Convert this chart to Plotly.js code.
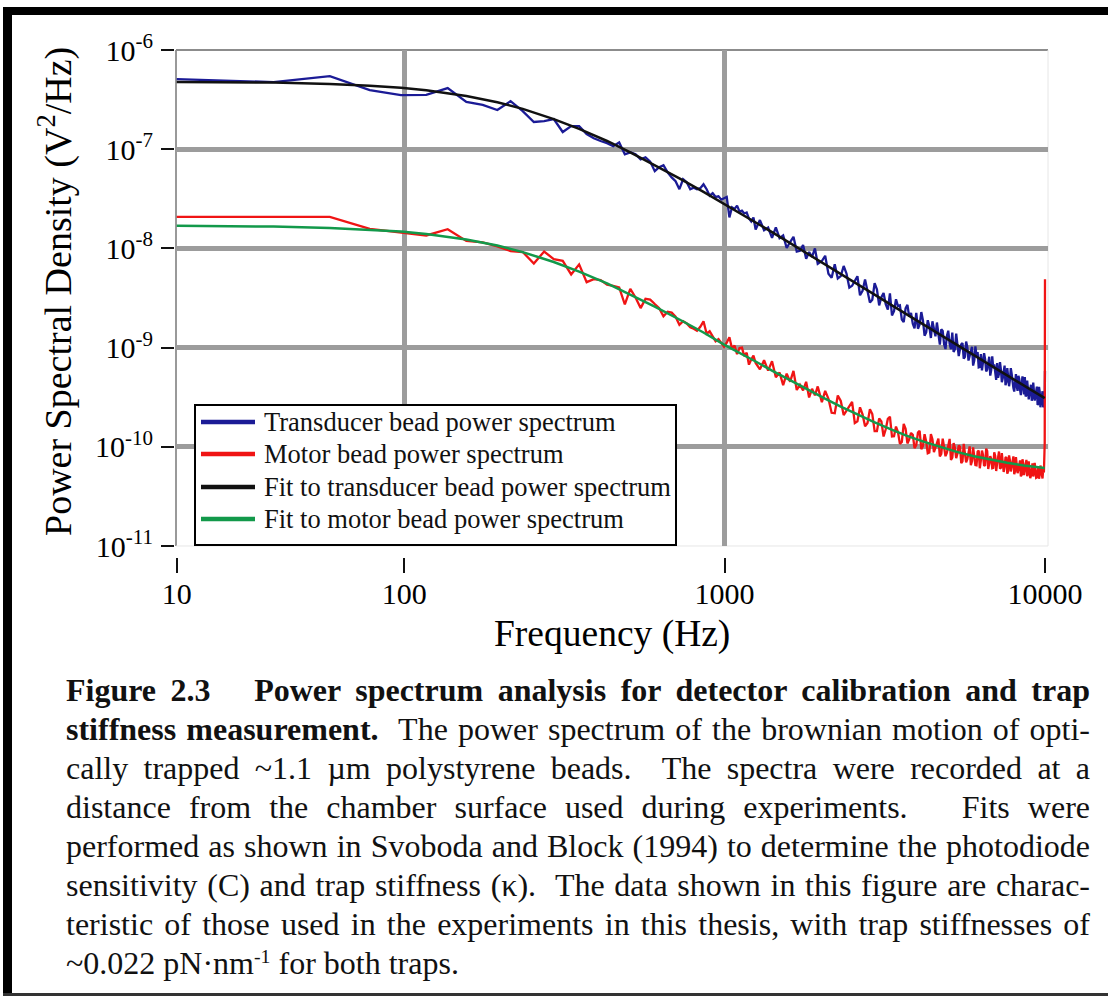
<!DOCTYPE html>
<html>
<head>
<meta charset="utf-8">
<script src="https://cdn.plot.ly/plotly-3.0.1.min.js"></script>
<style>
html,body{margin:0;padding:0;background:#fff;}
#wrap{position:relative;width:1108px;height:996px;overflow:hidden;background:#fff;}
#chart{position:absolute;left:0;top:0;width:1108px;height:996px;}
.frame{position:absolute;background:#000;}
#caption{position:absolute;left:66px;top:671px;width:1024px;font-family:"Liberation Serif","Times New Roman",serif;font-size:32px;line-height:39px;color:#111;}
#caption .ln{text-align:justify;text-align-last:justify;}
#caption .last{text-align:left;text-align-last:left;}
#caption sup{font-size:0.62em;line-height:0;vertical-align:0.55em;}
</style>
</head>
<body>
<div id="wrap">
  <div id="chart"></div>
  <div class="frame" style="left:3px;top:7px;width:1105px;height:8px;"></div>
  <div class="frame" style="left:3px;top:7px;width:9px;height:988px;"></div>
  <div class="frame" style="left:3px;top:993px;width:1105px;height:3px;background:#333;"></div>
  <div id="caption">
    <div class="ln"><b>Figure 2.3&nbsp;&nbsp; Power spectrum analysis for detector calibration and trap</b></div>
    <div class="ln"><b>stiffness measurement.</b>&nbsp; The power spectrum of the brownian motion of opti-</div>
    <div class="ln">cally trapped ~1.1 µm polystyrene beads.&nbsp; The spectra were recorded at a</div>
    <div class="ln">distance from the chamber surface used during experiments.&nbsp;&nbsp; Fits were</div>
    <div class="ln">performed as shown in Svoboda and Block (1994) to determine the photodiode</div>
    <div class="ln">sensitivity (C) and trap stiffness (κ).&nbsp; The data shown in this figure are charac-</div>
    <div class="ln">teristic of those used in the experiments in this thesis, with trap stiffnesses of</div>
    <div class="ln last">~0.022 pN·nm<sup>-1</sup> for both traps.</div>
  </div>
</div>
<script>
// ---------------- data ----------------
const seriesNames = [
  'Transducer bead power spectrum',
  'Motor bead power spectrum',
  'Fit to transducer bead power spectrum',
  'Fit to motor bead power spectrum'
];

const freqData = [
  19.5, 39.1, 58.6, 78.1, 97.7, 117.2, 136.7, 156.3, 175.8, 195.3,
  214.8, 234.4, 253.9, 273.4, 293.0, 312.5, 332.0, 351.6, 371.1, 390.6,
  410.2, 429.7, 449.2, 468.8, 488.3, 507.8, 527.3, 546.9, 566.4, 585.9,
  605.5, 625.0, 644.5, 664.1, 683.6, 703.1, 722.7, 742.2, 761.7, 781.3,
  800.8, 820.3, 839.8, 859.4, 878.9, 898.4, 918.0, 937.5, 957.0, 976.6,
  996.1, 1015.6, 1035.2, 1054.7, 1074.2, 1093.8, 1113.3, 1132.8, 1152.3, 1171.9,
  1191.4, 1210.9, 1230.5, 1250.0,
  1289.1, 1328.1, 1367.2, 1406.3, 1445.3, 1484.4, 1523.4, 1562.5, 1601.6, 1640.6,
  1679.7, 1718.8, 1757.8, 1796.9, 1835.9, 1875.0, 1914.1, 1953.1,
  2011.7, 2109.4, 2207.0, 2304.7, 2402.3, 2500.0, 2597.7, 2695.3, 2793.0, 2890.6,
  2988.3, 3085.9, 3183.6, 3281.3, 3378.9, 3476.6, 3574.2, 3671.9, 3769.5, 3867.2,
  3964.8, 4062.5, 4160.2, 4257.8, 4355.5, 4453.1, 4550.8, 4648.4, 4746.1, 4843.8,
  4941.4, 5039.1, 5136.7, 5234.4, 5332.0, 5429.7, 5527.3, 5625.0, 5722.7, 5820.3,
  5918.0, 6015.6, 6113.3, 6210.9, 6308.6, 6406.3, 6503.9, 6601.6, 6699.2, 6796.9,
  6894.5, 6992.2, 7089.8, 7187.5, 7285.2, 7382.8, 7480.5, 7578.1, 7675.8, 7773.4,
  7871.1, 7968.8, 8066.4, 8164.1, 8261.7, 8359.4, 8457.0, 8554.7, 8652.3, 8750.0,
  8847.7, 8945.3, 9043.0, 9140.6, 9238.3, 9335.9, 9433.6, 9531.3, 9628.9, 9726.6,
  9824.2, 9921.9, 9980.5, 10000.0
];

const transducerPSD = [
  5.09e-7, 4.75e-7, 5.46e-7, 3.94e-7, 3.51e-7, 3.53e-7, 4.13e-7, 3.00e-7, 2.80e-7, 2.48e-7,
  3.05e-7, 2.42e-7, 1.88e-7, 1.92e-7, 2.01e-7, 1.49e-7, 1.71e-7, 1.71e-7, 1.42e-7, 1.29e-7,
  1.21e-7, 1.15e-7, 1.07e-7, 1.17e-7, 8.9e-8, 9.3e-8, 8.9e-8, 7.9e-8, 8.3e-8, 7.5e-8,
  6.0e-8, 6.6e-8, 6.9e-8, 5.85e-8, 5.2e-8, 4.75e-8, 3.95e-8, 4.98e-8, 4.65e-8, 3.95e-8,
  4.1e-8, 3.95e-8, 4.05e-8, 4.43e-8, 3.95e-8, 3.4e-8, 3.6e-8, 3.3e-8, 3.35e-8, 3.1e-8,
  3.2e-8, 3.3e-8, 2.05e-8, 2.6e-8, 2.5e-8, 2.7e-8, 2.35e-8, 2.4e-8, 2.25e-8, 2.3e-8,
  2.0e-8, 1.87e-8, 2.05e-8, 1.55e-8,
  1.93e-8, 1.52e-8, 1.62e-8, 1.28e-8, 1.63e-8, 1.27e-8, 1.35e-8, 1.01e-8, 1.16e-8, 1.31e-8,
  9.29e-9, 9.47e-9, 1.08e-8, 7.87e-9, 9.19e-9, 8.23e-9, 9.98e-9, 6.98e-9,
  7.46e-9, 5.54e-9, 6.94e-9, 5.26e-9, 5.56e-9, 4.20e-9, 5.24e-9, 3.74e-9, 3.82e-9, 3.04e-9,
  3.87e-9, 3.23e-9, 2.74e-9, 3.52e-9, 2.33e-9, 2.62e-9, 1.92e-9, 2.48e-9, 2.04e-9, 1.74e-9,
  2.24e-9, 1.71e-9, 1.88e-9, 1.42e-9, 1.64e-9, 1.84e-9, 1.30e-9, 1.33e-9, 1.53e-9, 1.08e-9,
  1.31e-9, 1.09e-9, 1.42e-9, 9.65e-10, 1.06e-9, 9.67e-10, 1.11e-9, 8.08e-10, 1.01e-9, 8.24e-10,
  1.02e-9, 7.39e-10, 8.27e-10, 6.31e-10, 8.58e-10, 7.02e-10, 7.65e-10, 6.00e-10, 8.08e-10, 5.98e-10,
  6.25e-10, 5.17e-10, 6.97e-10, 5.46e-10, 5.99e-10, 4.91e-10, 6.58e-10, 4.51e-10, 5.20e-10, 4.72e-10,
  5.42e-10, 3.93e-10, 5.03e-10, 4.10e-10, 5.19e-10, 3.78e-10, 4.37e-10, 3.94e-10, 5.04e-10, 3.34e-10,
  3.84e-10, 3.46e-10, 4.22e-10, 3.13e-10, 3.76e-10, 3.24e-10, 4.04e-10, 2.71e-10, 3.60e-10, 2.86e-10,
  3.63e-10, 2.63e-10, 3.17e-10, 5.8e-10
];

const motorPSD = [
  2.08e-8, 2.08e-8, 2.08e-8, 1.57e-8, 1.44e-8, 1.35e-8, 1.56e-8, 1.19e-8, 1.15e-8, 1.05e-8,
  9.4e-9, 9.2e-9, 7.05e-9, 9.3e-9, 7.8e-9, 7.5e-9, 5.46e-9, 6.9e-9, 4.57e-9, 4.9e-9,
  4.8e-9, 4.3e-9, 4.2e-9, 4.05e-9, 2.72e-9, 3.9e-9, 3.2e-9, 2.5e-9, 3.1e-9, 3.05e-9,
  2.75e-9, 2.5e-9, 2.07e-9, 2.3e-9, 2.25e-9, 2.05e-9, 1.7e-9, 1.85e-9, 1.75e-9, 1.6e-9,
  1.55e-9, 1.48e-9, 1.62e-9, 1.84e-9, 1.38e-9, 1.46e-9, 1.3e-9, 1.16e-9, 1.22e-9, 1.1e-9,
  1.02e-9, 1.12e-9, 1.27e-9, 9.8e-10, 1.05e-9, 8.6e-10, 9.9e-10, 1.0e-9, 8.2e-10, 8.9e-10,
  6.73e-10, 7.6e-10, 8.3e-10, 7.0e-10,
  6.03e-10, 7.48e-10, 5.86e-10, 7.28e-10, 5.03e-10, 5.61e-10, 4.18e-10, 5.47e-10, 4.53e-10, 5.82e-10,
  3.74e-10, 4.21e-10, 3.70e-10, 4.52e-10, 3.14e-10, 3.84e-10, 3.30e-10, 4.06e-10,
  2.82e-10, 3.05e-10, 2.18e-10, 2.90e-10, 2.33e-10, 2.84e-10, 1.81e-10, 2.12e-10, 1.74e-10, 2.14e-10,
  1.44e-10, 1.80e-10, 1.50e-10, 2.01e-10, 1.28e-10, 1.41e-10, 1.12e-10, 1.52e-10, 1.19e-10, 1.32e-10,
  1.04e-10, 1.45e-10, 1.02e-10, 1.13e-10, 8.75e-11, 1.19e-10, 9.89e-11, 1.21e-10, 8.47e-11, 1.01e-10,
  8.72e-11, 1.20e-10, 7.78e-11, 9.81e-11, 8.58e-11, 1.00e-10, 7.12e-11, 8.80e-11, 7.51e-11, 1.01e-10,
  7.15e-11, 8.02e-11, 6.50e-11, 9.17e-11, 7.29e-11, 8.28e-11, 6.53e-11, 9.09e-11, 6.77e-11, 7.52e-11,
  6.13e-11, 8.11e-11, 6.82e-11, 8.97e-11, 6.14e-11, 7.36e-11, 6.26e-11, 7.88e-11, 5.69e-11, 7.29e-11,
  6.30e-11, 8.01e-11, 5.68e-11, 6.71e-11, 5.88e-11, 7.29e-11, 5.22e-11, 6.76e-11, 5.94e-11, 7.39e-11,
  5.38e-11, 6.24e-11, 5.14e-11, 6.81e-11, 5.46e-11, 5.95e-11, 4.92e-11, 6.33e-11, 5.25e-11, 5.73e-11,
  4.79e-11, 5.50e-11, 1.1e-10, 4.9e-9
];

// additional high-frequency samples lying between the ones above
const freqDataExtra = [
  2060.5, 2158.2, 2255.9, 2353.5, 2451.2, 2548.8, 2646.5, 2744.1, 2841.8, 2939.5,
  3037.1, 3134.8, 3232.4, 3330.1, 3427.7, 3525.4, 3623.0, 3720.7, 3818.4, 3916.0,
  4013.7, 4111.3, 4209.0, 4306.6, 4404.3, 4502.0, 4599.6, 4697.3, 4794.9, 4892.6,
  4990.2, 5087.9, 5185.5, 5283.2, 5380.9, 5478.5, 5576.2, 5673.8, 5771.5, 5869.1,
  5966.8, 6064.5, 6162.1, 6259.8, 6357.4, 6455.1, 6552.7, 6650.4, 6748.0, 6845.7,
  6943.4, 7041.0, 7138.7, 7236.3, 7334.0, 7431.6, 7529.3, 7627.0, 7724.6, 7822.3,
  7919.9, 8017.6, 8115.2, 8212.9, 8310.5, 8408.2, 8505.9, 8603.5, 8701.2, 8798.8,
  8896.5, 8994.1, 9091.8, 9189.5, 9287.1, 9384.8, 9482.4, 9580.1, 9677.7, 9775.4,
  9873.0
];
const transducerPSDExtra = [
  8.43e-9, 5.05e-9, 4.97e-9, 6.65e-9, 4.02e-9, 4.63e-9, 3.37e-9, 4.86e-9, 2.85e-9, 4.45e-9,
  2.66e-9, 3.55e-9, 2.41e-9, 2.11e-9, 3.07e-9, 2.67e-9, 1.81e-9, 2.70e-9, 2.23e-9, 1.56e-9,
  1.55e-9, 2.28e-9, 1.32e-9, 1.89e-9, 1.25e-9, 1.56e-9, 1.79e-9, 1.07e-9, 1.47e-9, 9.67e-10,
  1.48e-9, 9.63e-10, 9.05e-10, 1.38e-9, 8.20e-10, 1.08e-9, 7.74e-10, 1.15e-9, 7.40e-10, 9.65e-10,
  6.59e-10, 1.03e-9, 8.99e-10, 6.37e-10, 5.88e-10, 8.77e-10, 5.74e-10, 7.12e-10, 5.22e-10, 8.18e-10,
  6.78e-10, 4.73e-10, 4.96e-10, 7.14e-10, 4.47e-10, 5.49e-10, 4.19e-10, 6.23e-10, 4.08e-10, 6.22e-10,
  4.36e-10, 3.60e-10, 5.41e-10, 3.66e-10, 4.86e-10, 3.32e-10, 5.14e-10, 3.37e-10, 3.21e-10, 4.65e-10,
  3.01e-10, 4.20e-10, 2.92e-10, 4.44e-10, 2.92e-10, 3.64e-10, 2.64e-10, 4.02e-10, 2.50e-10, 3.58e-10,
  2.50e-10
];
const motorPSDExtra = [
  3.66e-10, 2.20e-10, 3.29e-10, 2.09e-10, 2.54e-10, 1.74e-10, 2.50e-10, 1.61e-10, 2.39e-10, 1.44e-10,
  1.93e-10, 1.27e-10, 1.91e-10, 1.27e-10, 1.60e-10, 1.07e-10, 1.70e-10, 1.08e-10, 1.38e-10, 9.68e-11,
  1.39e-10, 9.46e-11, 1.34e-10, 8.61e-11, 1.34e-10, 8.84e-11, 1.10e-10, 7.98e-11, 1.21e-10, 8.04e-11,
  1.07e-10, 7.38e-11, 1.09e-10, 7.67e-11, 1.03e-10, 6.83e-11, 1.07e-10, 6.97e-11, 9.11e-11, 6.54e-11,
  9.85e-11, 6.54e-11, 8.90e-11, 6.08e-11, 9.17e-11, 6.41e-11, 9.59e-11, 5.98e-11, 8.07e-11, 6.08e-11,
  8.80e-11, 5.70e-11, 8.29e-11, 6.03e-11, 8.65e-11, 5.58e-11, 7.76e-11, 5.37e-11, 8.20e-11, 5.64e-11,
  7.43e-11, 5.29e-11, 7.86e-11, 5.43e-11, 7.05e-11, 5.04e-11, 7.49e-11, 5.18e-11, 6.70e-11, 5.06e-11,
  7.15e-11, 4.83e-11, 6.64e-11, 5.03e-11, 6.90e-11, 4.87e-11, 6.22e-11, 4.77e-11, 6.48e-11, 4.86e-11,
  6.00e-11
];

const freqFit = [
  19.5, 39.1, 58.6, 78.1, 97.7, 117.2, 156.3, 195.3, 234.4, 293.0,
  351.6, 429.7, 507.8, 605.5, 722.7, 859.4, 996.1, 1113.3, 1250.0, 1406.3,
  1601.6, 1816.4, 2050.8, 2304.7, 2597.7, 2929.7, 3320.3, 3710.9, 4199.2, 4687.5,
  5273.4, 5957.0, 6738.3, 7617.2, 8593.8, 9375.0, 9980.5
];
const transducerFit = [
  4.77e-7, 4.69e-7, 4.55e-7, 4.37e-7, 4.16e-7, 3.93e-7, 3.44e-7, 2.97e-7, 2.55e-7, 2.01e-7,
  1.60e-7, 1.21e-7, 9.30e-8, 6.94e-8, 5.09e-8, 3.72e-8, 2.82e-8, 2.29e-8, 1.83e-8, 1.46e-8,
  1.13e-8, 8.85e-9, 6.97e-9, 5.54e-9, 4.37e-9, 3.44e-9, 2.68e-9, 2.15e-9, 1.69e-9, 1.36e-9,
  1.08e-9, 8.47e-10, 6.64e-10, 5.22e-10, 4.13e-10, 3.48e-10, 3.09e-10
];
const motorFit = [
  1.69e-8, 1.66e-8, 1.61e-8, 1.55e-8, 1.48e-8, 1.40e-8, 1.23e-8, 1.07e-8, 9.18e-9, 7.30e-9,
  5.83e-9, 4.45e-9, 3.45e-9, 2.59e-9, 1.92e-9, 1.42e-9, 1.07e-9, 8.91e-10, 7.24e-10, 5.87e-10,
  4.67e-10, 3.76e-10, 3.07e-10, 2.54e-10, 2.11e-10, 1.77e-10, 1.49e-10, 1.29e-10, 1.12e-10, 9.98e-11,
  8.93e-11, 8.08e-11, 7.41e-11, 6.89e-11, 6.48e-11, 6.25e-11, 6.10e-11
];

const xTickVals = [19.5, 100, 1000, 10000];
const xTickText = ['10', '100', '1000', '10000'];
const xGridVals = [100, 1000];
const yTickVals = [1e-6, 1e-7, 1e-8, 1e-9, 1e-10, 1e-11];
const yTickText = ['10<sup>-6</sup>', '10<sup>-7</sup>', '10<sup>-8</sup>', '10<sup>-9</sup>', '10<sup>-10</sup>', '10<sup>-11</sup>'];
const yGridVals = [1e-7, 1e-8, 1e-9, 1e-10];

const xTitle = 'Frequency (Hz)';
const yTitle = 'Power Spectral Density (V<sup>2</sup>/Hz)';

// ---------------- helpers / style ----------------
function mergeSorted(xa, ya, xb, yb) {
  const pts = xa.map((x, i) => [x, ya[i]]).concat(xb.map((x, i) => [x, yb[i]]));
  pts.sort((p, q) => p[0] - q[0]);
  return {x: pts.map(p => p[0]), y: pts.map(p => p[1])};
}
const transducerSeries = mergeSorted(freqData, transducerPSD, freqDataExtra, transducerPSDExtra);
const motorSeries = mergeSorted(freqData, motorPSD, freqDataExtra, motorPSDExtra);

const colors = ['#1b1b96', '#f01414', '#111111', '#12994a'];
const FONT = '"Liberation Serif", "Times New Roman", serif';
const xRange = [1.2878, 4.0094];
const yRange = [-11, -6];
const gridColor = '#9c9c9c';

const traces = [
  {x: transducerSeries.x, y: transducerSeries.y, name: seriesNames[0], type: 'scatter', mode: 'lines',
   line: {color: colors[0], width: 2.3}, xaxis: 'x', yaxis: 'y'},
  {x: motorSeries.x, y: motorSeries.y, name: seriesNames[1], type: 'scatter', mode: 'lines',
   line: {color: colors[1], width: 2.3}, xaxis: 'x', yaxis: 'y'},
  {x: freqFit, y: transducerFit, name: seriesNames[2], type: 'scatter', mode: 'lines',
   line: {color: colors[2], width: 2.5}, xaxis: 'x2', yaxis: 'y2'},
  {x: freqFit, y: motorFit, name: seriesNames[3], type: 'scatter', mode: 'lines',
   line: {color: colors[3], width: 2.5}, xaxis: 'x2', yaxis: 'y2'}
];

const frameLine = (x0, y0, x1, y1, c, w) => ({
  type: 'line', xref: 'x domain', yref: 'y domain', x0, y0, x1, y1,
  line: {color: c, width: w}, layer: 'below'
});

// legend box (paper coordinates)
const legBox = {x0: 0.02403, x1: 0.57437, y0: 0.02367, y1: 0.29980};
const legSwatchX = [0.03089, 0.09268];
const legTextX = 0.10069;
const legRowY = [0.26627, 0.20316, 0.13807, 0.07495];

const shapes = [
  frameLine(0, 0, 0, 1, '#999999', 2),
  frameLine(0, 1, 1, 1, '#8c8c8c', 2),
  frameLine(1, 0, 1, 1, '#e6e6e6', 1),
  frameLine(0, 0, 1, 0, '#e6e6e6', 1),
  {type: 'rect', xref: 'paper', yref: 'paper', x0: legBox.x0, x1: legBox.x1, y0: legBox.y0, y1: legBox.y1,
   fillcolor: '#ffffff', line: {color: '#000', width: 2}, layer: 'above'}
];
const annotations = [
  {text: yTitle, xref: 'paper', yref: 'paper', x: -0.135, y: 0.5227,
   xanchor: 'center', yanchor: 'middle', textangle: -90, showarrow: false,
   font: {family: FONT, size: 38, color: '#000'}},
  {text: xTitle, xref: 'paper', yref: 'paper', x: 0.5011, y: -0.1519,
   xanchor: 'center', yanchor: 'middle', showarrow: false,
   font: {family: FONT, size: 37.5, color: '#000'}}
];
seriesNames.forEach((name, i) => {
  shapes.push({type: 'line', xref: 'paper', yref: 'paper',
    x0: legSwatchX[0], x1: legSwatchX[1], y0: legRowY[i], y1: legRowY[i],
    line: {color: colors[i], width: 4.5}, layer: 'above'});
  annotations.push({text: name, xref: 'paper', yref: 'paper', x: legTextX, y: legRowY[i],
    xanchor: 'left', yanchor: 'middle', showarrow: false,
    font: {family: FONT, size: 26.5, color: '#111'}});
});

const layout = {
  width: 1108, height: 996,
  margin: {l: 174, r: 60, t: 50, b: 439, pad: 0},
  paper_bgcolor: 'rgba(0,0,0,0)',
  plot_bgcolor: '#ffffff',
  font: {family: FONT, size: 30, color: '#000'},
  hovermode: false,
  showlegend: false,
  xaxis: {
    type: 'log', range: xRange, domain: [0.00229, 1], autorange: false,
    tickmode: 'array', tickvals: xGridVals, showticklabels: false, ticks: '',
    showgrid: true, gridcolor: gridColor, gridwidth: 5, zeroline: false, showline: false
  },
  xaxis2: {
    type: 'log', range: xRange, overlaying: 'x', anchor: 'free', position: 0, autorange: false,
    tickmode: 'array', tickvals: xTickVals, ticktext: xTickText,
    ticks: 'outside', ticklen: 15, tickwidth: 2, tickcolor: '#111', ticklabelstandoff: -5,
    tickfont: {family: FONT, size: 30, color: '#000'},
    showgrid: false, zeroline: false, showline: false
  },
  yaxis: {
    type: 'log', range: yRange, domain: [0.0217, 1], autorange: false,
    tickmode: 'array', tickvals: yGridVals, showticklabels: false, ticks: '',
    showgrid: true, gridcolor: gridColor, gridwidth: 5, zeroline: false, showline: false
  },
  yaxis2: {
    type: 'log', range: yRange, overlaying: 'y', anchor: 'free', position: 0, autorange: false,
    tickmode: 'array', tickvals: yTickVals, ticktext: yTickText,
    ticks: 'outside', ticklen: 13, tickwidth: 2, tickcolor: '#111', ticklabelstandoff: 2,
    tickfont: {family: FONT, size: 30, color: '#000'},
    showgrid: false, zeroline: false, showline: false
  },
  shapes: shapes,
  annotations: annotations
};

Plotly.newPlot('chart', traces, layout, {staticPlot: true, displayModeBar: false});
</script>
</body>
</html>
